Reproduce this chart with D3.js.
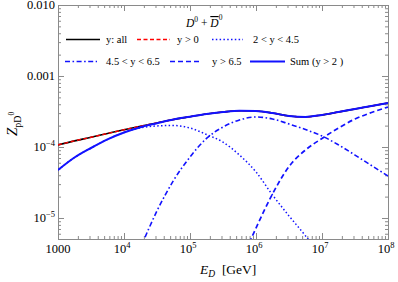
<!DOCTYPE html>
<html>
<head>
<meta charset="utf-8">
<script src="https://cdn.jsdelivr.net/npm/d3@7"></script>
<style>
  body { margin: 0; background: #fff; }
  svg { display: block; font-family: "Liberation Serif", "Times New Roman", serif; }
</style>
</head>
<body>
<div id="chart"></div>
<script>
// energies (GeV), quarter-decade steps
var energy = [1e3, 1.778e3, 3.162e3, 5.623e3, 1e4, 1.778e4, 3.162e4, 5.623e4, 1e5, 1.778e5,
              3.162e5, 5.623e5, 1e6, 1.778e6, 3.162e6, 5.623e6, 1e7, 1.778e7, 3.162e7, 5.623e7, 1e8];

var z_all   = [1.07e-4, 1.22e-4, 1.37e-4, 1.55e-4, 1.75e-4, 1.96e-4, 2.18e-4, 2.44e-4, 2.67e-4, 2.92e-4,
               3.11e-4, 3.24e-4, 3.21e-4, 3.01e-4, 2.73e-4, 2.65e-4, 2.83e-4, 3.11e-4, 3.43e-4, 3.78e-4, 4.17e-4];
var z_y0    = z_all.slice();
var z_y2_45 = [4.74e-5, 7.11e-5, 9.68e-5, 1.28e-4, 1.60e-4, 1.86e-4, 1.98e-4, 2.01e-4, 1.85e-4, 1.50e-4,
               1.17e-4, 7.7e-5, 4.45e-5, 2.11e-5, 1.07e-5, 5.6e-6, 2.73e-6, null, null, null, null];
var z_y45_65 = [null, null, null, null, null, 3.8e-6, 1.26e-5, 3.37e-5, 7.23e-5, 1.32e-4,
               1.91e-4, 2.40e-4, 2.65e-4, 2.48e-4, 2.11e-4, 1.76e-4, 1.43e-4, 1.07e-4, 7.7e-5, 5.48e-5, 3.91e-5];
var z_y65   = [null, null, null, null, null, null, null, null, null, null,
               null, 2.18e-6, 7.22e-6, 2.18e-5, 5.3e-5, 9.08e-5, 1.32e-4, 1.85e-4, 2.48e-4, 3.06e-4, 3.66e-4];
var z_sum   = [4.74e-5, 7.11e-5, 9.68e-5, 1.28e-4, 1.60e-4, 1.90e-4, 2.16e-4, 2.44e-4, 2.67e-4, 2.92e-4,
               3.11e-4, 3.24e-4, 3.21e-4, 3.01e-4, 2.73e-4, 2.65e-4, 2.83e-4, 3.11e-4, 3.43e-4, 3.78e-4, 4.17e-4];

var x_ticks = [1e3, 1e4, 1e5, 1e6, 1e7, 1e8];
var x_labels = [["1000", ""], ["10", "4"], ["10", "5"], ["10", "6"], ["10", "7"], ["10", "8"]];
var y_ticks = [1e-5, 1e-4, 1e-3, 1e-2];
var y_labels = [["10", "\u22125"], ["10", "\u22124"], ["0.001", ""], ["0.010", ""]];

var width = 398, height = 282;
var p_left = 58, p_right = 388, p_top = 5, p_bottom = 239;
var blue = "#1212ff", frame_col = "#8a8a8a";

var svg = d3.select("#chart").append("svg")
    .attr("width", width)
    .attr("height", height);

var x = d3.scaleLog().domain([1e3, 1e8]).range([p_left, p_right]);
var y = d3.scaleLog().domain([5.06e-6, 1e-2]).range([p_bottom, p_top]);

function minors(lo, hi) {
    var out = [];
    for (var d = Math.floor(Math.log10(lo)); d <= Math.ceil(Math.log10(hi)); d++) {
        for (var k = 2; k <= 9; k++) {
            var v = k * Math.pow(10, d);
            if (v > lo && v < hi) out.push(v);
        }
    }
    return out;
}
var x_minor = minors(1e3, 1e8);
var y_minor = minors(5.06e-6, 1e-2);

// ticks on all four sides, pointing inward
function tick_axis(axis, tr) {
    var g = svg.append("g").attr("transform", tr).call(axis);
    g.select(".domain").remove();
    g.selectAll("line").attr("stroke", frame_col);
    g.selectAll("text").remove();
}
tick_axis(d3.axisLeft(y).tickValues(y_ticks).tickSize(-6), "translate(" + p_left + ",0)");
tick_axis(d3.axisLeft(y).tickValues(y_minor).tickSize(-3), "translate(" + p_left + ",0)");
tick_axis(d3.axisRight(y).tickValues(y_ticks).tickSize(-6), "translate(" + p_right + ",0)");
tick_axis(d3.axisRight(y).tickValues(y_minor).tickSize(-3), "translate(" + p_right + ",0)");
tick_axis(d3.axisBottom(x).tickValues(x_ticks).tickSize(-6), "translate(0," + p_bottom + ")");
tick_axis(d3.axisBottom(x).tickValues(x_minor).tickSize(-3), "translate(0," + p_bottom + ")");
tick_axis(d3.axisTop(x).tickValues(x_ticks).tickSize(-6), "translate(0," + p_top + ")");
tick_axis(d3.axisTop(x).tickValues(x_minor).tickSize(-3), "translate(0," + p_top + ")");

svg.append("rect")
    .attr("x", p_left + 0.5).attr("y", p_top + 0.5)
    .attr("width", p_right - p_left).attr("height", p_bottom - p_top)
    .attr("fill", "none").attr("stroke", frame_col).attr("stroke-width", 1);

// tick labels
y_ticks.forEach(function(v, i) {
    var t = svg.append("text")
        .attr("x", p_left - 3).attr("y", y(v)).attr("dy", "0.35em")
        .attr("text-anchor", "end").attr("font-size", 12.5);
    t.append("tspan").text(y_labels[i][0]);
    if (y_labels[i][1]) t.append("tspan").attr("dy", -5).attr("font-size", 8.5).text(y_labels[i][1]);
});
x_ticks.forEach(function(v, i) {
    var t = svg.append("text")
        .attr("x", x(v) + (x_labels[i][1] ? -2 : 0)).attr("y", p_bottom + 14)
        .attr("text-anchor", "middle").attr("font-size", 12.5);
    t.append("tspan").text(x_labels[i][0]);
    if (x_labels[i][1]) t.append("tspan").attr("dy", -5).attr("font-size", 8.5).text(x_labels[i][1]);
});

// axis titles
var xt = svg.append("text").attr("x", 200).attr("y", 274).attr("font-size", 13.5);
xt.append("tspan").attr("font-style", "italic").text("E");
xt.append("tspan").attr("font-style", "italic").attr("font-size", 9.5).attr("dy", 3).text("D");
xt.append("tspan").attr("dy", -3).attr("xml:space", "preserve").text("  [GeV]");

var yt = svg.append("text")
    .attr("transform", "translate(17,136) rotate(-90)")
    .attr("font-size", 15);
yt.append("tspan").attr("font-style", "italic").text("Z");
yt.append("tspan").attr("font-size", 10).attr("dy", 3.5).text("pD");
yt.append("tspan").attr("font-size", 7.5).attr("dy", -7).text("0");

// curves
svg.append("clipPath").attr("id", "plot_clip")
    .append("rect").attr("x", p_left).attr("y", p_top).attr("width", p_right - p_left).attr("height", p_bottom - p_top);

var line = d3.line()
    .defined(function(d) { return d[1] != null; })
    .x(function(d) { return x(d[0]); })
    .y(function(d) { return y(d[1]); })
    .curve(d3.curveMonotoneX);

var series = [
    { name: "y: all",        vals: z_all,    color: "#000", w: 1.6, dash: null },
    { name: "y > 0",         vals: z_y0,     color: "#ff0000", w: 1.4, dash: "4,2.5" },
    { name: "2 < y < 4.5",   vals: z_y2_45,  color: blue, w: 1.5, dash: "1.5,2.3" },
    { name: "4.5 < y < 6.5", vals: z_y45_65, color: blue, w: 1.6, dash: "5,2.5,1.6,2.5" },
    { name: "y > 6.5",       vals: z_y65,    color: blue, w: 1.7, dash: "5,3" },
    { name: "Sum (y > 2 )",  vals: z_sum,    color: blue, w: 2, dash: null }
];

var curves = svg.append("g").attr("clip-path", "url(#plot_clip)");
series.forEach(function(s) {
    curves.append("path")
        .datum(energy.map(function(e, i) { return [e, s.vals[i]]; }))
        .attr("d", line)
        .attr("fill", "none")
        .attr("stroke", s.color)
        .attr("stroke-width", s.w)
        .attr("stroke-dasharray", s.dash);
});

// legend
var title = svg.append("text").attr("x", 186).attr("y", 27).attr("font-size", 11.5);
title.append("tspan").attr("font-style", "italic").text("D");
title.append("tspan").attr("font-size", 7.5).attr("dy", -5).text("0");
title.append("tspan").attr("dy", 5).attr("xml:space", "preserve").text(" + ");
title.append("tspan").attr("font-style", "italic").attr("text-decoration", "overline").text("D");
title.append("tspan").attr("font-size", 7.5).attr("dy", -7).text("0");

var leg_pos = [[66, 100, 106, 39.5], [137, 170, 177, 39.5], [212, 243, 253, 39.5],
               [65, 97, 106, 61.5], [170, 202, 212, 61.5], [250, 285, 290, 61.5]];
series.forEach(function(s, i) {
    var p = leg_pos[i];
    svg.append("line")
        .attr("x1", p[0]).attr("x2", p[1]).attr("y1", p[3]).attr("y2", p[3])
        .attr("stroke", s.color).attr("stroke-width", s.w)
        .attr("stroke-dasharray", s.dash);
    svg.append("text")
        .attr("x", p[2]).attr("y", p[3]).attr("dy", "0.35em")
        .attr("font-size", 10.5)
        .text(s.name);
});
</script>
</body>
</html>
